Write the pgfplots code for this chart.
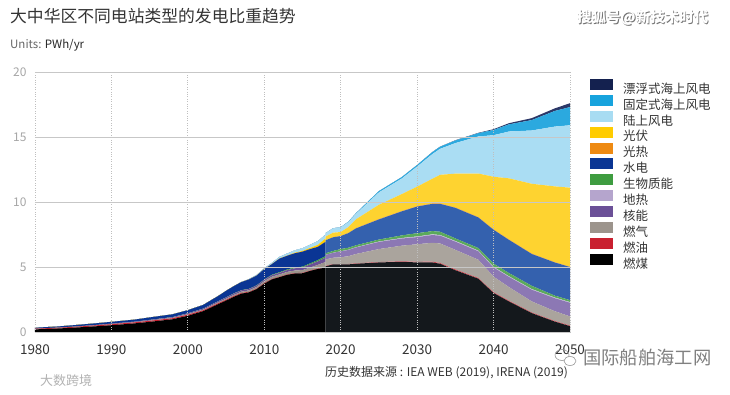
\documentclass[border=0pt]{standalone}
\usepackage{pgfplots}
\pgfplotsset{compat=1.18}
\usepackage{pgfplotstable}
\usepackage{fontspec}
\setmainfont{Noto Sans CJK SC}

\definecolor{hcoal}{HTML}{000000}
\definecolor{hoil}{HTML}{C9202F}
\definecolor{hgas}{HTML}{9C948C}
\definecolor{hnuc}{HTML}{6B5097}
\definecolor{hgeo}{HTML}{B5A5CD}
\definecolor{hbio}{HTML}{3E9C40}
\definecolor{hhyd}{HTML}{0A3594}
\definecolor{hcsp}{HTML}{EE8A12}
\definecolor{hpv}{HTML}{FFCC00}
\definecolor{hon}{HTML}{A8DCF2}
\definecolor{hfix}{HTML}{17A3DD}
\definecolor{hflo}{HTML}{14214F}

\definecolor{fcoal}{HTML}{14181C}
\definecolor{foil}{HTML}{D14B55}
\definecolor{fgas}{HTML}{AAA49D}
\definecolor{fnuc}{HTML}{8C78B4}
\definecolor{fgeo}{HTML}{C3B6D8}
\definecolor{fbio}{HTML}{5BAA5B}
\definecolor{fhyd}{HTML}{3461AE}
\definecolor{fcsp}{HTML}{F0952C}
\definecolor{fpv}{HTML}{FED330}
\definecolor{fon}{HTML}{AADDF3}
\definecolor{ffix}{HTML}{2BA9DF}
\definecolor{fflo}{HTML}{2C3868}

\definecolor{txt}{HTML}{333333}

% Historical generation (PWh/yr)
\pgfplotstableread{
year coal oil gas nuc geo bio hyd csp pv on fix flo
1980 0.20 0.05 0.01 0.00 0 0.000 0.07 0 0.000 0.000 0 0
1983 0.27 0.055 0.01 0.00 0 0.000 0.09 0 0.000 0.000 0 0
1985 0.33 0.06 0.01 0.01 0 0.000 0.11 0 0.000 0.000 0 0
1988 0.44 0.07 0.01 0.02 0 0.000 0.13 0 0.000 0.000 0 0
1990 0.52 0.08 0.01 0.03 0 0.000 0.14 0 0.000 0.000 0 0
1993 0.66 0.08 0.015 0.035 0 0.000 0.16 0 0.000 0.000 0 0
1995 0.78 0.08 0.02 0.045 0 0.005 0.19 0 0.000 0.000 0 0
1998 0.98 0.08 0.03 0.05 0 0.010 0.21 0 0.000 0.000 0 0
2000 1.25 0.08 0.04 0.06 0 0.010 0.24 0 0.000 0.000 0 0
2002 1.60 0.07 0.05 0.07 0 0.010 0.28 0 0.000 0.000 0 0
2004 2.15 0.07 0.07 0.08 0 0.010 0.40 0 0.000 0.000 0 0
2005 2.42 0.06 0.08 0.09 0 0.015 0.50 0 0.000 0.000 0 0
2006 2.70 0.06 0.09 0.10 0 0.020 0.55 0 0.000 0.005 0 0
2007 2.95 0.05 0.10 0.10 0 0.020 0.62 0 0.000 0.010 0 0
2008 3.05 0.04 0.11 0.10 0 0.020 0.72 0 0.000 0.030 0 0
2009 3.30 0.04 0.13 0.10 0 0.020 0.75 0 0.000 0.050 0 0
2010 3.72 0.04 0.15 0.10 0 0.030 0.80 0 0.000 0.060 0 0
2011 4.05 0.035 0.17 0.11 0 0.040 0.82 0 0.005 0.090 0 0
2012 4.22 0.03 0.18 0.12 0 0.050 1.05 0 0.010 0.120 0 0
2013 4.40 0.03 0.19 0.14 0 0.055 1.05 0 0.020 0.150 0 0
2014 4.50 0.03 0.20 0.17 0 0.060 1.10 0 0.040 0.180 0 0
2015 4.52 0.03 0.21 0.20 0 0.070 1.15 0 0.060 0.200 0 0
2016 4.70 0.03 0.23 0.24 0 0.080 1.10 0 0.090 0.240 0 0
2017 4.85 0.03 0.28 0.27 0 0.100 1.02 0 0.150 0.280 0 0
2018 4.95 0.03 0.40 0.33 0 0.120 1.10 0 0.250 0.300 0 0
}\hist

% Projected generation (PWh/yr)
\pgfplotstableread{
year coal oil gas nuc geo bio hyd csp pv on fix flo
2018 5.05 0.03 0.50 0.35 0.000 0.12 1.00 0.000 0.28 0.27 0.00 0.00
2019 5.20 0.03 0.48 0.38 0.005 0.14 1.05 0.005 0.35 0.33 0.01 0.00
2020 5.20 0.03 0.52 0.45 0.010 0.17 1.00 0.010 0.30 0.35 0.02 0.00
2021 5.20 0.03 0.60 0.48 0.015 0.16 1.12 0.015 0.45 0.38 0.03 0.00
2022 5.25 0.03 0.72 0.50 0.020 0.15 1.30 0.020 0.68 0.42 0.05 0.00
2025 5.35 0.03 1.00 0.55 0.030 0.15 1.55 0.030 1.10 0.95 0.10 0.00
2028 5.40 0.04 1.20 0.55 0.040 0.20 1.85 0.030 1.30 1.20 0.11 0.00
2030 5.35 0.05 1.35 0.55 0.050 0.25 2.05 0.030 1.50 1.55 0.12 0.00
2032 5.35 0.06 1.45 0.60 0.050 0.25 2.10 0.030 1.90 1.90 0.15 0.01
2033 5.25 0.06 1.50 0.60 0.050 0.25 2.15 0.030 2.20 2.00 0.16 0.01
2035 4.75 0.07 1.50 0.63 0.050 0.20 2.35 0.030 2.60 2.35 0.20 0.02
2038 4.10 0.06 1.40 0.65 0.050 0.20 2.35 0.030 3.35 2.85 0.25 0.03
2040 3.00 0.06 1.20 0.70 0.050 0.25 2.60 0.030 4.05 3.20 0.40 0.06
2042 2.35 0.06 1.05 0.78 0.050 0.25 2.55 0.030 4.70 3.60 0.55 0.09
2045 1.45 0.05 0.85 0.90 0.050 0.25 2.45 0.030 5.37 4.10 0.80 0.15
2048 0.80 0.05 0.75 1.00 0.050 0.15 2.55 0.020 5.83 4.60 1.20 0.20
2050 0.45 0.05 0.70 1.05 0.050 0.15 2.55 0.020 6.08 4.80 1.40 0.30
}\proj

\pgfplotsset{
  base/.style={
    at={(0,0)}, anchor=south west,
    scale only axis, width=535pt, height=260pt,
    xmin=1980, xmax=2050, ymin=0, ymax=20,
    stack plots=y,
  },
}

\begin{document}
\begin{tikzpicture}
% projection part
\begin{axis}[base, hide axis]
\addplot[fill=fcoal, draw=none] table[x=year,y=coal]{\proj} \closedcycle;
\addplot[fill=foil, draw=none] table[x=year,y=oil]{\proj} \closedcycle;
\addplot[fill=fgas, draw=none] table[x=year,y=gas]{\proj} \closedcycle;
\addplot[fill=fnuc, draw=none] table[x=year,y=nuc]{\proj} \closedcycle;
\addplot[fill=fgeo, draw=none] table[x=year,y=geo]{\proj} \closedcycle;
\addplot[fill=fbio, draw=none] table[x=year,y=bio]{\proj} \closedcycle;
\addplot[fill=fhyd, draw=none] table[x=year,y=hyd]{\proj} \closedcycle;
\addplot[fill=fcsp, draw=none] table[x=year,y=csp]{\proj} \closedcycle;
\addplot[fill=fpv, draw=none] table[x=year,y=pv]{\proj} \closedcycle;
\addplot[fill=fon, draw=none] table[x=year,y=on]{\proj} \closedcycle;
\addplot[fill=ffix, draw=none] table[x=year,y=fix]{\proj} \closedcycle;
\addplot[fill=fflo, draw=none] table[x=year,y=flo]{\proj} \closedcycle;
\end{axis}
% history part, grid, ticks and legend
\begin{axis}[base,
  axis on top,
  axis line style={draw=none},
  major tick length=0pt,
  xtick={1980,1990,...,2050},
  ytick={0,5,...,20},
  xmajorgrids, ymajorgrids,
  x grid style={dotted, line width=0.9pt, color=black!25},
  y grid style={line width=0.7pt, color=black!22},
  /pgf/number format/assume math mode=true,
  xticklabel style={/pgf/number format/1000 sep={}, font=\fontsize{13.5}{14}\selectfont, text=txt, yshift=-9pt},
  yticklabel style={font=\fontsize{12}{12}\selectfont, text=black!35, xshift=-5pt},
  reverse legend,
  legend cell align=left,
  legend style={at={(1.0318,0.982)}, anchor=north west, draw=none, fill=none,
    font=\fontsize{12.5}{12.5}\selectfont, text=txt,
    row sep=-1.9pt, column sep=8pt},
  legend image code/.code={\fill[#1,draw=none] (0pt,-1.2pt) rectangle (23pt,9.8pt);},
]
\addplot[fill=hcoal, draw=none] table[x=year,y=coal]{\hist} \closedcycle;
\addlegendentry{燃煤}
\addplot[fill=hoil, draw=none] table[x=year,y=oil]{\hist} \closedcycle;
\addlegendentry{燃油}
\addplot[fill=hgas, draw=none] table[x=year,y=gas]{\hist} \closedcycle;
\addlegendentry{燃气}
\addplot[fill=hnuc, draw=none] table[x=year,y=nuc]{\hist} \closedcycle;
\addlegendentry{核能}
\addplot[fill=hgeo, draw=none] table[x=year,y=geo]{\hist} \closedcycle;
\addlegendentry{地热}
\addplot[fill=hbio, draw=none] table[x=year,y=bio]{\hist} \closedcycle;
\addlegendentry{生物质能}
\addplot[fill=hhyd, draw=none] table[x=year,y=hyd]{\hist} \closedcycle;
\addlegendentry{水电}
\addplot[fill=hcsp, draw=none] table[x=year,y=csp]{\hist} \closedcycle;
\addlegendentry{光热}
\addplot[fill=hpv, draw=none] table[x=year,y=pv]{\hist} \closedcycle;
\addlegendentry{光伏}
\addplot[fill=hon, draw=none] table[x=year,y=on]{\hist} \closedcycle;
\addlegendentry{陆上风电}
\addplot[fill=hfix, draw=none] table[x=year,y=fix]{\hist} \closedcycle;
\addlegendentry{固定式海上风电}
\addplot[fill=hflo, draw=none] table[x=year,y=flo]{\hist} \closedcycle;
\addlegendentry{漂浮式海上风电}
\end{axis}

% texts
\node[anchor=west, inner sep=0pt, font=\fontsize{16.8}{16.8}\selectfont, text=txt] at (-25pt,316pt) {大中华区不同电站类型的发电比重趋势};
\node[anchor=west, inner sep=0pt, font=\fontsize{11.5}{11.5}\selectfont] at (-25pt,287pt) {\textcolor{black!60}{Units:} \textcolor{black!85}{PWh/yr}};
\node[anchor=west, inner sep=0pt, font=\fontsize{14.5}{14.5}\selectfont\bfseries, text=black!55] at (542.8pt,313.2pt) {搜狐号@新技术时代};
\node[anchor=west, inner sep=0pt, font=\fontsize{14.5}{14.5}\selectfont\bfseries, text=white] at (542pt,314pt) {搜狐号@新技术时代};
\node[anchor=west, inner sep=0pt, font=\fontsize{12}{12}\selectfont, text=txt] at (290pt,-41pt) {历史数据来源 : IEA WEB (2019), IRENA (2019)};
\draw[black!40, line width=0.6pt] (527pt,-23pt) ellipse (7pt and 5.5pt);
\draw[black!40, line width=0.6pt, fill=white] (535pt,-29pt) ellipse (6pt and 4.5pt);
\node[anchor=west, inner sep=0pt, font=\fontsize{18.3}{18.3}\selectfont, text=black!50] at (548pt,-26pt) {国际船舶海工网};
\node[anchor=west, inner sep=0pt, font=\fontsize{13}{13}\selectfont, text=black!30] at (5pt,-49pt) {大数跨境};

\pgfresetboundingbox
\path[use as bounding box] (-35pt,-63pt) rectangle (695pt,332pt);
\end{tikzpicture}
\end{document}
